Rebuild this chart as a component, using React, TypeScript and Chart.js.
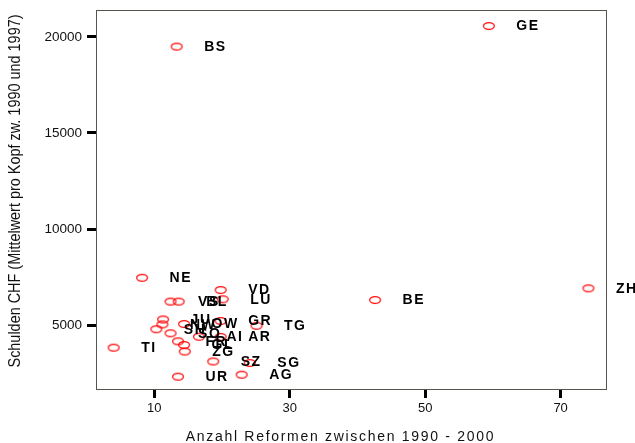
import { useEffect, useRef } from 'react';
import { Chart, registerables } from 'chart.js';

Chart.register(...registerables);

const cantons = ['GE', 'BS', 'NE', 'VD', 'LU', 'ZH', 'BE', 'VS', 'BL', 'JU', 'NW', 'OW', 'GR', 'TG', 'SH', 'SO', 'AI', 'AR', 'FR', 'GL', 'ZG', 'TI', 'SZ', 'SG', 'AG', 'UR'];
const reforms = [59.4, 13.3, 8.2, 19.8, 20.1, 74.1, 42.6, 12.4, 13.6, 11.3, 11.2, 14.4, 19.8, 25.1, 10.3, 12.4, 16.6, 19.8, 13.5, 14.4, 14.5, 4.0, 18.7, 24.1, 22.9, 13.5];
const debts = [20570, 19500, 7460, 6820, 6340, 6910, 6300, 6220, 6220, 5290, 5030, 5050, 5210, 4960, 4780, 4570, 4390, 4380, 4150, 3960, 3620, 3820, 3100, 3020, 2410, 2310];
const xTicks = [10, 30, 50, 70];
const yTicks = [5000, 10000, 15000, 20000];
const xTitle = 'Anzahl Reformen zwischen 1990 - 2000';
const yTitle = 'Schulden CHF (Mittelwert pro Kopf zw. 1990 und 1997)';

export default function App() {
  const ref = useRef<HTMLCanvasElement>(null);

  useEffect(() => {
    const canvas = ref.current;
    if (!canvas) return;

    const ell = document.createElement('canvas');
    ell.width = 14;
    ell.height = 10;
    const ec = ell.getContext('2d')!;
    ec.strokeStyle = '#ff0000';
    ec.lineWidth = 1.2;
    ec.beginPath();
    ec.ellipse(7, 5, 5.4, 3.4, 0, 0, Math.PI * 2);
    ec.stroke();

    const decor = {
      id: 'decor',
      beforeDraw(chart: any) {
        (chart.ctx as any).letterSpacing = '0px';
      },
      beforeDatasetsDraw(chart: any) {
        const { ctx, chartArea } = chart;
        ctx.save();
        ctx.strokeStyle = '#55554d';
        ctx.lineWidth = 1;
        ctx.strokeRect(chartArea.left + 0.5, chartArea.top + 0.5, chartArea.right - chartArea.left - 1, chartArea.bottom - chartArea.top - 1);
        ctx.restore();
      },
      afterDatasetsDraw(chart: any) {
        const ctx = chart.ctx;
        const meta = chart.getDatasetMeta(0);
        ctx.save();
        (ctx as any).letterSpacing = '1.5px';
        ctx.font = 'bold 14px "Liberation Sans", Arial, sans-serif';
        ctx.fillStyle = '#000';
        ctx.textAlign = 'left';
        ctx.textBaseline = 'middle';
        meta.data.forEach((pt: any, i: number) => {
          ctx.fillText(cantons[i], pt.x + 27.5, pt.y + 0.5);
        });
        ctx.restore();
        (ctx as any).letterSpacing = '1.3px';
      },
      afterDraw(chart: any) {
        const { ctx, chartArea } = chart;
        ctx.save();
        ctx.fillStyle = '#111';
        (ctx as any).letterSpacing = '1.7px';
        ctx.font = '14px "Liberation Sans", Arial, sans-serif';
        ctx.textAlign = 'center';
        ctx.textBaseline = 'middle';
        ctx.fillText(xTitle, (chartArea.left + chartArea.right) / 2 - 11, chartArea.bottom + 47);
        (ctx as any).letterSpacing = '0px';
        ctx.translate(16, (chartArea.top + chartArea.bottom) / 2 - 9);
        ctx.rotate(-Math.PI / 2);
        ctx.font = '16px "Liberation Sans", Arial, sans-serif';
        const w = ctx.measureText(yTitle).width;
        ctx.scale(353 / w, 1);
        ctx.fillText(yTitle, 0, 0);
        ctx.restore();
        (ctx as any).letterSpacing = '0px';
      },
    };

    const chart = new Chart(canvas, {
      type: 'scatter',
      data: {
        datasets: [
          {
            data: reforms.map((x, i) => ({ x, y: debts[i] })),
            pointStyle: ell as any,
            pointRadius: 6,
          },
        ],
      },
      options: {
        animation: false,
        responsive: false,
        devicePixelRatio: 1,
        layout: { padding: { left: 0, top: 10, right: 28, bottom: 0 } },
        plugins: { legend: { display: false }, tooltip: { enabled: false } },
        scales: {
          x: {
            type: 'linear',
            min: 1.39,
            max: 76.85,
            z: 1,
            afterFit: (s: any) => {
              s.height = 53;
              s.paddingLeft = 0;
              s.paddingRight = 0;
            },
            afterBuildTicks: (s: any) => {
              s.ticks = xTicks.map((v) => ({ value: v }));
            },
            grid: { drawOnChartArea: false, drawTicks: true, tickLength: 8, tickWidth: 3, tickColor: '#000' },
            border: { display: false },
            ticks: {
              padding: 3,
              color: '#111',
              font: { family: '"Liberation Sans", Arial, sans-serif', size: 13 },
              maxRotation: 0,
            },
          },
          y: {
            type: 'linear',
            min: 1615,
            max: 21406,
            afterFit: (s: any) => {
              s.width = 96;
              s.paddingTop = 0;
              s.paddingBottom = 0;
            },
            afterBuildTicks: (s: any) => {
              s.ticks = yTicks.map((v) => ({ value: v }));
            },
            grid: { drawOnChartArea: false, drawTicks: true, tickLength: 9, tickWidth: 3, tickColor: '#000' },
            border: { display: false },
            ticks: {
              padding: 5,
              color: '#111',
              font: { family: '"Liberation Sans", Arial, sans-serif', size: 13.5 },
              callback: (v: any) => String(v),
            },
          },
        },
      },
      plugins: [decor],
    });

    return () => chart.destroy();
  }, []);

  return (
    <div style={{ position: 'fixed', left: 0, top: 0, width: 635, height: 443, background: '#fff' }}>
      <canvas ref={ref} width={635} height={443} style={{ display: 'block' }} />
    </div>
  );
}
